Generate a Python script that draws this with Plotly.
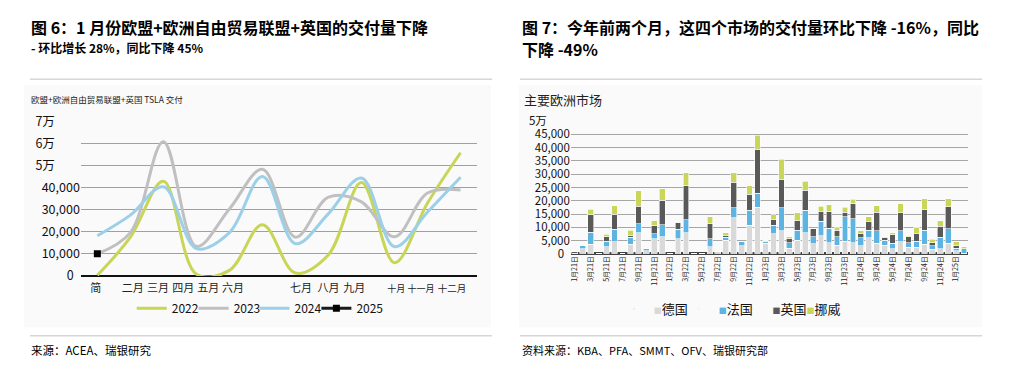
import plotly.graph_objects as go

W, H = 1024, 377
FONT = "Noto Sans CJK SC"


def px(x):
    return x / W


def py(y):
    return 1 - y / H


# ---------------- Left chart data (Fig. 6) ----------------
month_idx = list(range(12))
month_labels = ["简", "二月", "三月", "四月", "五月", "六月", "七月", "八月", "九月",
                "<span style='font-size:9px'>十月</span>",
                "<span style='font-size:9px'>十一月</span>",
                "<span style='font-size:9.5px'>十二月</span>"]
y2022 = [300, 17500, 42800, 800, 2500, 23200, 1300, 9600, 42200, 6000, 33000, 55700]
y2023 = [10000, 19600, 60700, 13400, 30300, 48200, 17500, 35600, 33500, 17700, 37500, 38900]
y2024 = [18200, 27500, 40300, 12400, 19600, 45000, 14600, 28200, 44300, 13200, 28900, 44600]
y2025 = [10000]
left_ytick_vals = [0, 10000, 20000, 30000, 40000, 50000, 60000, 70000]
left_ytick_text = ["0\u2002", "10,000", "20,000", "30,000", "40,000",
                   "5万\u3000\u3000", "6万\u3000\u3000", "7万\u3000\u3000"]
# label positions as they appear (unevenly) under the axis
left_xtick_pos = [-0.05, 1.07, 1.84, 2.6, 3.36, 4.11, 6.17, 7.0, 7.78, 9.05, 9.8, 10.74]

# ---------------- Right chart data (Fig. 7) ----------------
periods = [f"{m}月{y}日" for y in range(21, 26) for m in range(1, 13)][:50]
de = [100, 2000, 3600, 0, 2600, 4500, 0, 3600, 8000, 1100, 5600, 6500,
      0, 5700, 8000, 300, 0, 2700, 1000, 5100, 13600, 3000, 10800, 17600,
      4000, 7500, 8700, 2100, 5100, 8000, 3700, 6900, 4200, 3300, 4800, 4200,
      3000, 6000, 3900, 3200, 2000, 4500, 2400, 2400, 3600, 1800, 2000, 3900,
      1200, 200]
fr = [100, 1000, 4500, 0, 2200, 4800, 0, 2600, 3300, 800, 1900, 4400,
      0, 3500, 4900, 0, 0, 3000, 0, 1100, 3700, 1800, 5700, 5200,
      700, 3200, 8600, 2100, 3800, 8400, 2700, 5400, 5400, 3200, 9100, 9100,
      3000, 2900, 4800, 1900, 1900, 4200, 1800, 2400, 5300, 1200, 4200, 5600,
      900, 1800]
uk = [500, 0, 6700, 0, 1700, 5600, 0, 700, 6700, 0, 3100, 9300,
      0, 2700, 12700, 0, 0, 5600, 0, 800, 9700, 0, 6000, 16500,
      300, 2400, 10700, 1500, 3600, 7600, 3100, 3800, 6200, 2400, 1800, 5600,
      1700, 3400, 7000, 900, 3200, 6700, 2300, 2900, 7800, 1200, 4200, 8300,
      1100, 0]
no = [100, 0, 2000, 0, 800, 3300, 0, 2000, 5700, 0, 1800, 4400,
      0, 0, 5000, 0, 0, 2700, 0, 1000, 3600, 0, 3200, 5300,
      200, 1700, 7700, 800, 3000, 3400, 0, 1800, 2600, 1000, 1900, 1700,
      1000, 1700, 2400, 500, 900, 3500, 300, 2400, 4100, 1200, 2100, 3000,
      1300, 700]
right_ytick_vals = [0, 5000, 10000, 15000, 20000, 25000, 30000, 35000, 40000, 45000, 50000]
right_ytick_text = ["0\u2002", "5,000", "10,000", "15,000", "20,000", "25,000", "30,000",
                    "35,000", "40,000", "45,000", "5万\u3000\u3000"]

fig = go.Figure()

# ---- left lines, each with its own legend so entries sit where the reference has them
line_specs = [("2022", y2022, "#c8d556", "legend", 130),
              ("2023", y2023, "#c0c0c0", "legend2", 192),
              ("2024", y2024, "#9ccfe8", "legend3", 253)]
for name, ys, col, lg, _ in line_specs:
    fig.add_trace(go.Scatter(
        x=month_idx[:len(ys)], y=ys, name=name, mode="lines",
        line=dict(color=col, width=3, shape="spline", smoothing=1.0),
        xaxis="x", yaxis="y", legend=lg))
fig.add_trace(go.Scatter(
    x=month_idx[:len(y2025)], y=y2025, name="2025", mode="lines+markers",
    line=dict(color="#1a1a1a", width=3),
    marker=dict(symbol="square", size=7, color="#000000"),
    xaxis="x", yaxis="y", legend="legend4"))

# ---- right stacked bars
bar_specs = [("德国", de, "#d9d9d9", "legend5", 613),
             ("法国", fr, "#5db4e3", "legend6", 678),
             ("英国", uk, "#595959", "legend7", 732),
             ("挪威", no, "#c9d65a", "legend8", 766)]
for name, vals, col, lg, _ in bar_specs:
    fig.add_trace(go.Bar(
        x=periods, y=vals, name=name, showlegend=False,
        marker=dict(color=col, line=dict(color="white", width=0.6)),
        xaxis="x2", yaxis="y2"))
    # legend entry: small coloured square glyph followed by the name
    fig.add_trace(go.Scatter(
        x=[None], y=[None], mode="markers", marker=dict(opacity=0, size=1),
        name=f"<span style='font-size:8px;color:{col}'>■</span>{name}",
        xaxis="x2", yaxis="y2", legend=lg, hoverinfo="skip"))

shapes = [
    dict(type="rect", xref="paper", yref="paper", x0=px(22), x1=px(490), y0=py(333), y1=py(78),
         fillcolor="#fafafa", line=dict(width=0), layer="below"),
    dict(type="rect", xref="paper", yref="paper", x0=px(518), x1=px(982), y0=py(333), y1=py(78),
         fillcolor="#fafafa", line=dict(width=0), layer="below"),
    dict(type="line", xref="paper", yref="paper", x0=px(28), x1=px(491), y0=py(72), y1=py(72),
         line=dict(color="#d6d6d6", width=1.5)),
    dict(type="line", xref="paper", yref="paper", x0=px(519), x1=px(982), y0=py(72), y1=py(72),
         line=dict(color="#d6d6d6", width=1.5)),
    dict(type="line", xref="paper", yref="paper", x0=px(28), x1=px(491), y0=py(342), y1=py(342),
         line=dict(color="#d6d6d6", width=1.5)),
    dict(type="line", xref="paper", yref="paper", x0=px(519), x1=px(982), y0=py(342), y1=py(342),
         line=dict(color="#d6d6d6", width=1.5)),
]


def ann(x, y, text, size, color="#000000", anchor="left"):
    return dict(x=px(x), y=py(y), xref="paper", yref="paper", text=text, showarrow=False,
                xanchor=anchor, yanchor="middle", font=dict(family=FONT, size=size, color=color))


annotations = [
    ann(27, 17, "<b>图 6：1 月份欧盟+欧洲自由贸易联盟+英国的交付量下降</b>", 16),
    ann(27, 38, "<b>- 环比增长 28%，同比下降 45%</b>", 12),
    ann(27, 93, "欧盟+欧洲自由贸易联盟+英国 TSLA 交付", 8.5, "#222222"),
    ann(27, 357, "来源：ACEA、瑞银研究", 11.5),
    ann(519, 17, "<b>图 7：今年前两个月，这四个市场的交付量环比下降 -16%，同比</b>", 16),
    ann(519, 40, "<b>下降 -49%</b>", 16),
    ann(521, 93, "主要欧洲市场", 13, "#222222"),
    ann(519, 357, "资料来源：KBA、PFA、SMMT、OFV、瑞银研究部", 11),
]


def legend_at(x, y, size):
    return dict(orientation="h", x=px(x), xanchor="left", y=py(y), yanchor="middle",
                font=dict(family=FONT, size=size, color="#111111"), bgcolor="rgba(0,0,0,0)",
                itemwidth=30, borderwidth=0)


legend_layout = {}
for name, _, _, lg, lx in line_specs:
    legend_layout[lg] = legend_at(lx, 313, 12)
legend_layout["legend4"] = legend_at(315, 313, 12)
for name, _, _, lg, lx in bar_specs:
    legend_layout[lg] = legend_at(lx, 313.5, 13)

fig.update_layout(
    width=W, height=H,
    margin=dict(l=0, r=0, t=0, b=0),
    paper_bgcolor="white", plot_bgcolor="rgba(0,0,0,0)",
    font=dict(family=FONT, color="#000000"),
    barmode="stack", bargap=0.28,
    shapes=shapes, annotations=annotations,
    xaxis=dict(domain=[px(79), px(476)], range=[-0.5, 11.5], showgrid=False, zeroline=False,
               showline=False, tickmode="array", tickvals=left_xtick_pos, ticktext=month_labels,
               tickangle=0, ticks="", ticklabelstandoff=4,
               tickfont=dict(family=FONT, size=11, color="#222222"), anchor="y"),
    yaxis=dict(domain=[py(279), py(116)], range=[0, 70000], tickmode="array",
               tickvals=left_ytick_vals, ticktext=left_ytick_text,
               showgrid=True, gridcolor="#a0a0a0", gridwidth=1,
               zeroline=True, zerolinecolor="#111111", zerolinewidth=2,
               showline=False, ticks="", tickfont=dict(family=FONT, size=12.5, color="#111111"),
               anchor="x"),
    xaxis2=dict(domain=[px(570), px(968)], type="category", showgrid=False, zeroline=False,
                showline=False, tickmode="array", tickvals=periods[::2], ticktext=periods[::2],
                tickangle=-90, ticks="", tickfont=dict(family=FONT, size=7, color="#222222"),
                anchor="y2"),
    yaxis2=dict(domain=[py(255.7), py(116)], range=[0, 50000], tickmode="array",
                tickvals=right_ytick_vals, ticktext=right_ytick_text,
                showgrid=True, gridcolor="#a6a6a6", gridwidth=1,
                zeroline=True, zerolinecolor="#444444", zerolinewidth=2.5,
                showline=False, ticks="", tickfont=dict(family=FONT, size=11.5, color="#111111"),
                anchor="x2"),
    **legend_layout,
)

fig.write_html("out.html", config={"displayModeBar": False},
               post_script="document.body.style.margin='0';document.body.style.overflow='hidden';")
